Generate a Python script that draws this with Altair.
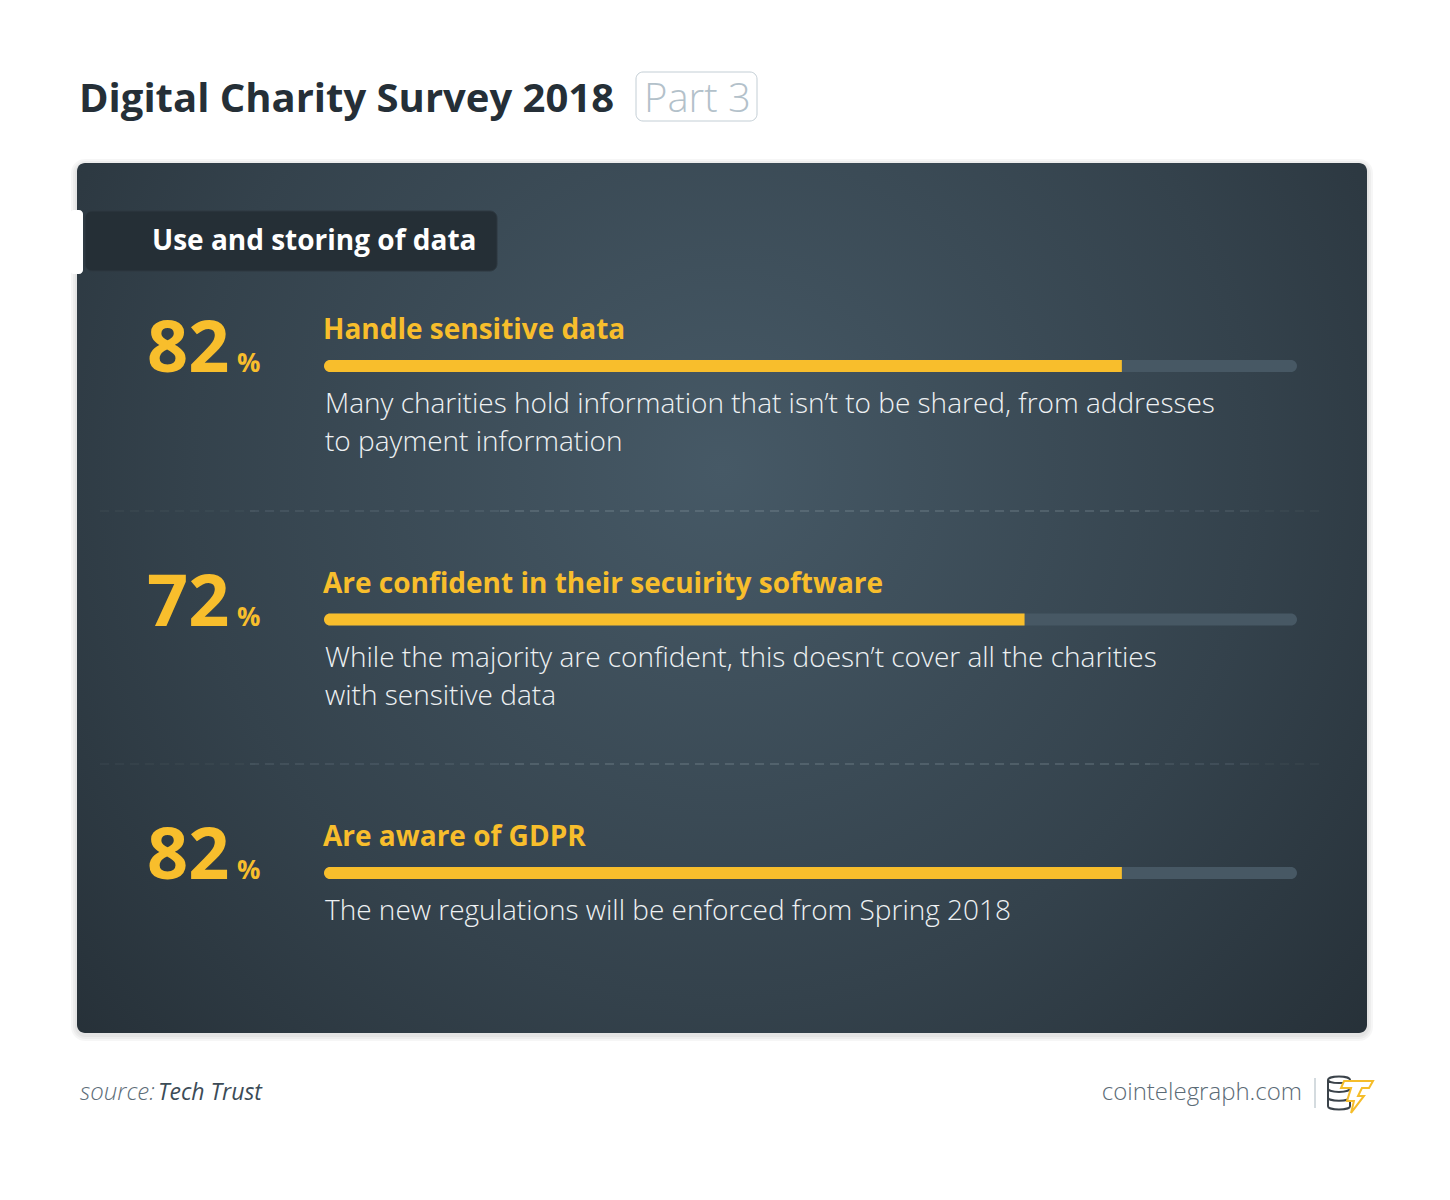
import altair as alt
import pandas as pd

# ---------------- data ----------------
title_text = "Digital Charity Survey 2018"
part_text = "Part 3"
section_title = "Use and storing of data"
rows = [0, 1, 2]
percents = [82, 72, 82]
labels = [
    "Handle sensitive data",
    "Are confident in their secuirity software",
    "Are aware of GDPR",
]
descriptions = [
    "Many charities hold information that isn\u2019t to be shared, from addresses\nto payment information",
    "While the majority are confident, this doesn\u2019t cover all the charities\nwith sensitive data",
    "The new regulations will be enforced from Spring 2018",
]
source_label = "source:"
source_name = "Tech Trust"
brand = "cointelegraph.com"

df = pd.DataFrame({
    "row": rows,
    "pct": percents,
    "pct_text": [str(p) for p in percents],
    "label": labels,
    "desc": descriptions,
    "zero": [0] * len(rows),
    "full": [100] * len(rows),
})

OFF = 8
def px(v):
    return v - OFF

W, H = 1434, 1184
FONT = "Open Sans"
YELLOW = "#f8be2c"

one = pd.DataFrame({"k": [0]})

def box(x1, x2, y1, y2, **kw):
    return alt.Chart(one).mark_rect(**kw).encode(
        x=alt.value(px(x1)), x2=alt.value(px(x2)),
        y=alt.value(px(y1)), y2=alt.value(px(y2)))

def label_at(text, x, y, **kw):
    return alt.Chart(one).mark_text(text=text, font=FONT, baseline="alphabetic", **kw).encode(
        x=alt.value(px(x)), y=alt.value(px(y)))

# ---------------- card ----------------
grad = alt.RadialGradient(
    gradient="radial",
    stops=[alt.GradientStop(offset=0, color="#465966"),
           alt.GradientStop(offset=0.55, color="#34424c"),
           alt.GradientStop(offset=1, color="#222b32")],
    x1=0.5, y1=0.4, r1=0, x2=0.5, y2=0.4, r2=0.75,
)

shadow = [box(77 - d, 1367 + d, 163 - d + 2, 1033 + d + 2, cornerRadius=8 + d,
              fill="#000000", opacity=0.035) for d in (2, 4, 6)]
card = box(77, 1367, 163, 1033, cornerRadius=8, fill=grad)
notch = box(70, 83, 210, 274, cornerRadius=4, fill="#ffffff")
tab = box(85, 497, 211, 271, cornerRadius=7, fill="#252f36", stroke="#2e3941", strokeWidth=1)
tab_text = label_at(section_title, 152, 250, fontSize=28, fontWeight="bold",
                    color="#ffffff", align="left")

# ---------------- title ----------------
title = label_at(title_text, 79, 112, fontSize=40, fontWeight="bold",
                 color="#252f37", align="left")
part_box = box(636, 757, 72, 121, cornerRadius=7, fill="#ffffff",
               stroke="#c3ced5", strokeWidth=1)
part = label_at(part_text, 644, 112, fontSize=40, fontWeight=300,
                color="#b3c1ca", align="left")

# ---------------- dashed separators ----------------
seps = []
for yv in (511, 764):
    for (a, b, op) in [(100, 250, 0.12), (250, 500, 0.3), (500, 1150, 0.5),
                       (1150, 1250, 0.3), (1250, 1320, 0.12)]:
        seps.append(alt.Chart(one).mark_rule(color="#93a3ad", strokeWidth=1.2,
                                             strokeDash=[9, 6], opacity=op).encode(
            x=alt.value(px(a)), x2=alt.value(px(b)), y=alt.value(px(yv))))

# ---------------- rows ----------------
xs = alt.Scale(domain=[0, 100], range=[px(324), px(1297)], padding=0)
ys = alt.Scale(domain=[0, 2], range=[px(366), px(873)], zero=False, nice=False, padding=0)
base = alt.Chart(df)
yenc = alt.Y("row:Q", scale=ys, axis=None)

track = base.mark_bar(size=12, cornerRadius=6, color="#475864").encode(
    x=alt.X("zero:Q", scale=xs, axis=None), x2="full:Q", y=yenc)
fill = base.mark_bar(size=12, cornerRadiusTopLeft=6, cornerRadiusBottomLeft=6,
                     color=YELLOW).encode(
    x=alt.X("zero:Q", scale=xs, axis=None), x2="pct:Q", y=yenc)

num = base.mark_text(font=FONT, fontSize=72, fontWeight="bold", color=YELLOW,
                     align="left", baseline="alphabetic", dy=6).encode(
    x=alt.value(px(147)), y=yenc, text="pct_text:N")
pct_sign = base.mark_text(text="%", font=FONT, fontSize=26, fontWeight="bold",
                          color=YELLOW, align="left", baseline="alphabetic", dy=6).encode(
    x=alt.value(px(237)), y=yenc)
lab = base.mark_text(font=FONT, fontSize=28, fontWeight="bold", color=YELLOW,
                     align="left", baseline="alphabetic", dy=-27).encode(
    x=alt.value(px(323)), y=yenc, text="label:N")
desc = base.mark_text(font=FONT, fontSize=28, fontWeight=300, color="#eef1f3",
                      align="left", baseline="alphabetic", dy=47, lineHeight=38,
                      lineBreak="\n").encode(
    x=alt.value(px(325)), y=yenc, text="desc:N")

# ---------------- footer ----------------
src1 = label_at(source_label, 80, 1100, fontSize=24, fontWeight=300,
                fontStyle="italic", color="#5d6d78", align="left")
src2 = label_at(source_name, 158, 1100, fontSize=23, fontWeight="normal",
                fontStyle="italic", color="#3c4c57", align="left")
brand_t = label_at(brand, 1302, 1100, fontSize=24, fontWeight=300,
                   color="#5b6b76", align="right")
sep_v = alt.Chart(one).mark_rule(color="#b8c3ca", strokeWidth=1.2).encode(
    x=alt.value(px(1315)), y=alt.value(px(1078)), y2=alt.value(px(1108)))

coins_path = ("M-1,-1.2 A1,0.3 0 1,1 1,-1.2 A1,0.3 0 1,1 -1,-1.2 Z "
              "M-1,-1.2 L-1,1.2 A1,0.3 0 0,0 1,1.2 L1,-1.2 "
              "M-1,-0.4 A1,0.3 0 0,0 1,-0.4 "
              "M-1,0.4 A1,0.3 0 0,0 1,0.4")
coins = alt.Chart(one).mark_point(shape=coins_path, size=484, filled=True,
                                  fill="#ffffff", stroke="#3b434a", strokeWidth=2,
                                  opacity=1).encode(
    x=alt.value(px(1339)), y=alt.value(px(1093)))
bolt_path = ("M-0.76,-0.94 L0.94,-0.94 L0.71,-0.53 L0.29,-0.53 L0.06,-0.06 "
             "L0.41,-0.06 L-0.35,0.94 L-0.18,0.24 L-0.59,0.24 L-0.35,-0.53 "
             "L-0.94,-0.53 Z")
bolt = alt.Chart(one).mark_point(shape=bolt_path, size=1156, filled=True,
                                 fill="#ffffff", stroke="#f5bd2a", strokeWidth=2,
                                 opacity=1).encode(
    x=alt.value(px(1357)), y=alt.value(px(1097)))

chart = alt.layer(
    *shadow, card, notch, tab, tab_text,
    title, part_box, part,
    *seps,
    track, fill, num, pct_sign, lab, desc,
    src1, src2, brand_t, sep_v, coins, bolt,
).properties(
    width=W, height=H,
    autosize=alt.AutoSizeParams(type="none"),
    padding=0,
    background="#ffffff",
).configure_view(strokeWidth=0)

chart.save("out.html", embed_options={"renderer": "svg", "actions": False})
